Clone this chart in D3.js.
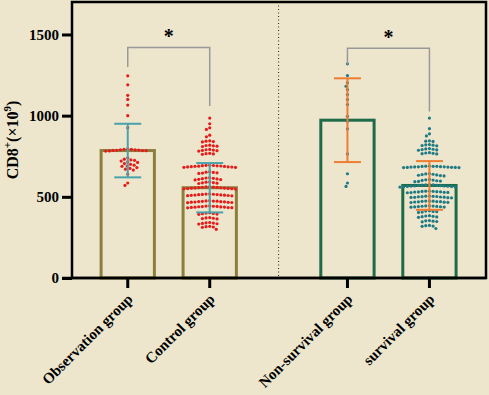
<!DOCTYPE html>
<html>
<head>
<meta charset="utf-8">
<script src="https://cdn.jsdelivr.net/npm/d3@7"></script>
<style>
  html, body { margin: 0; padding: 0; background: #ede6cd; }
  svg text { font-family: "Liberation Serif", "Times New Roman", serif; font-weight: bold; }
</style>
</head>
<body>
<div id="chart"></div>
<script>
// groups, means and SDs
const groups = ["Observation group", "Control group", "Non-survival group", "survival group"];
const means = [785, 556, 972, 570];
const sds = [165, 152, 258, 150];
const yTicks = [0, 500, 1000, 1500];

// individual points
const obsValues = [1245, 1190, 1125, 1100, 1065, 1000, 925,
  795, 793, 792, 790, 789, 788, 787, 786, 785, 784, 783, 782,
  740, 732, 728, 725, 720, 715, 712, 705, 700, 695, 690, 688, 680, 675, 670, 665,
  640, 585, 570];

const ctrlValues = [985, 950, 925, 915, 880, 870,
  845, 843, 840, 838,
  818, 816, 814, 812, 810,
  792, 790, 788, 786, 784, 782,
  768, 766, 764, 762,
  695, 694, 693, 692, 691, 690, 689, 688, 687, 686, 685, 684, 683, 682, 681,
  655, 652, 650, 648, 646, 644,
  618, 616, 614, 612, 610, 608, 606, 604,
  592, 590, 588, 586, 584, 582,
  562, 561, 560, 559, 558, 557, 556, 555, 554, 553, 552, 551, 550, 549, 548,
  518, 517, 516, 515, 514, 513, 512, 511, 510, 509, 508, 507, 506,
  476, 475, 474, 473, 472, 471, 470, 469, 468, 467, 466, 465, 464,
  444, 443, 442, 441, 440, 439, 438, 437, 436, 435, 434, 433, 432,
  402, 400, 398, 396, 394, 392,
  372, 370, 368, 366, 364,
  342, 340, 338, 336, 334, 332,
  318, 316, 314, 312, 300];

const nonSurvValues = [1319, 1247, 1202, 1181, 1160, 1130, 1099, 1068, 996, 965, 918, 764, 642, 585, 564];

const survValues = [985, 920, 888, 875,
  845, 843, 841,
  822, 820, 818, 816, 814,
  797, 795, 793, 791, 789, 787,
  772, 770, 768, 766, 764,
  690, 689, 688, 688, 687, 686, 685, 685, 684, 683, 683, 682, 681, 681, 680, 680,
  643, 641, 639, 637, 635, 633, 631, 629,
  607, 605, 603, 601, 599, 597, 595, 593,
  575, 574, 573, 572, 571, 570, 569, 568, 567, 566, 565, 564, 563, 562, 561, 560,
  536, 535, 534, 533, 532, 531, 530, 529, 528, 527, 526, 525,
  505, 504, 503, 502, 501, 500, 499, 498, 497, 496, 495, 494,
  475, 474, 473, 472, 471, 470, 469, 468, 467, 466, 465,
  445, 444, 443, 442, 441, 440, 439, 438, 437, 436,
  414, 412, 410, 408, 406, 404,
  384, 382, 380, 378, 376, 374,
  354, 352, 350, 348, 346,
  324, 322, 320, 318, 305];

const pointSets = [obsValues, ctrlValues, nonSurvValues, survValues];

const barColors = ["#8c7e3c", "#8c7e3c", "#1d6b47", "#1d6b47"];
const errColors = ["#4aa3aa", "#4aa3aa", "#ee7d32", "#ee7d32"];
const dotColors = ["#e61c1c", "#e61c1c", "#1f7a84", "#1f7a84"];

const W = 489, H = 395;
const margin = { top: 2, left: 72, right: 3, bottom: 117 };
const width = W - margin.left - margin.right,
  height = H - margin.top - margin.bottom;

const svg = d3.select("#chart").append("svg")
  .attr("width", W).attr("height", H);

const g = svg.append("g")
  .attr("transform", "translate(" + margin.left + "," + margin.top + ")");

// group index -> x, with a gap between the two comparisons
const gap = 0.68;
const xScale = d3.scaleLinear().domain([-0.68, 4.37]).range([0, width]);
const X = (i) => xScale(i + (i >= 2 ? gap : 0));
const bandW = xScale(0.65) - xScale(0);

const yScale = d3.scaleLinear().domain([0, 1700]).range([height, 0]);

// dotted divider between the two comparisons
const xDiv = xScale((1 + 2 + gap) / 2);
g.append("line")
  .attr("x1", xDiv).attr("x2", xDiv)
  .attr("y1", 0).attr("y2", height)
  .attr("stroke", "#222").attr("stroke-width", 1)
  .attr("stroke-dasharray", "1,2.5");

// bars
g.selectAll(".bar").data(means).enter().append("rect")
  .attr("x", (d, i) => X(i) - bandW / 2)
  .attr("y", (d) => yScale(d))
  .attr("width", bandW)
  .attr("height", (d) => height - yScale(d))
  .attr("fill", "none")
  .attr("stroke", (d, i) => barColors[i])
  .attr("stroke-width", 3);

// beeswarm layout
const r = 1.6, D = 3.7;
function swarm(values) {
  const placed = [];
  const sorted = values.slice().sort((a, b) => b - a);
  sorted.forEach((v) => {
    const y = yScale(v);
    const ivs = [];
    placed.forEach((p) => {
      const dy = Math.abs(p.y - y);
      if (dy < D) {
        const dx = Math.sqrt(D * D - dy * dy);
        ivs.push([p.x - dx, p.x + dx]);
      }
    });
    let cands = [0];
    ivs.forEach((iv) => { cands.push(iv[0], iv[1]); });
    cands.sort((a, b) => Math.abs(a) - Math.abs(b));
    let best = 0;
    for (const c of cands) {
      if (ivs.every((iv) => c <= iv[0] + 1e-6 || c >= iv[1] - 1e-6)) { best = c; break; }
    }
    placed.push({ x: best, y: y, v: v });
  });
  return placed;
}

pointSets.forEach((vals, i) => {
  const pts = swarm(vals);
  g.append("g").selectAll("circle").data(pts).enter().append("circle")
    .attr("cx", (d) => X(i) + d.x)
    .attr("cy", (d) => d.y)
    .attr("r", r)
    .attr("fill", dotColors[i]);
});

// error bars
const capW = 27;
means.forEach((m, i) => {
  const eg = g.append("g").attr("stroke", errColors[i]).attr("stroke-width", 2);
  eg.append("line").attr("x1", X(i)).attr("x2", X(i))
    .attr("y1", yScale(m + sds[i])).attr("y2", yScale(m - sds[i]));
  [m + sds[i], m - sds[i]].forEach((v) => {
    eg.append("line").attr("x1", X(i) - capW / 2).attr("x2", X(i) + capW / 2)
      .attr("y1", yScale(v)).attr("y2", yScale(v));
  });
});

// significance brackets
const brackets = [
  { a: 0, b: 1, top: 1420, la: 1300, lb: 1060 },
  { a: 2, b: 3, top: 1415, la: 1315, lb: 1025 }
];
brackets.forEach((br) => {
  g.append("path")
    .attr("d", d3.line()([
      [X(br.a), yScale(br.la)], [X(br.a), yScale(br.top)],
      [X(br.b), yScale(br.top)], [X(br.b), yScale(br.lb)]
    ]))
    .attr("fill", "none").attr("stroke", "#999").attr("stroke-width", 1.5);
  g.append("text")
    .attr("x", (X(br.a) + X(br.b)) / 2)
    .attr("y", yScale(br.top) - 4)
    .attr("text-anchor", "middle")
    .style("font-size", "20px")
    .text("*");
});

// frame
g.append("rect").attr("x", 0).attr("y", 0).attr("width", width).attr("height", height)
  .attr("fill", "none").attr("stroke", "#000").attr("stroke-width", 2.5);

// y axis
const yAxis = g.append("g")
  .call(d3.axisLeft(yScale).tickValues(yTicks).tickSize(10).tickPadding(3).tickFormat(d3.format("d")));
yAxis.select(".domain").remove();
yAxis.selectAll("line").attr("stroke", "#000").attr("stroke-width", 3);
yAxis.selectAll("text").style("font-size", "15px").attr("fill", "#000");

// x axis
const xAxis = g.append("g").attr("transform", "translate(0," + height + ")");
xAxis.append("line").attr("x1", -10).attr("x2", width).attr("stroke", "#000").attr("stroke-width", 2.5);
groups.forEach((name, i) => {
  xAxis.append("line").attr("x1", X(i)).attr("x2", X(i)).attr("y1", 0).attr("y2", 10)
    .attr("stroke", "#000").attr("stroke-width", 3);
  xAxis.append("text")
    .attr("text-anchor", "end")
    .attr("transform", "translate(" + (X(i) + 6) + ",22) rotate(-45)")
    .style("font-size", "15px")
    .text(name);
});

// y label
const yl = svg.append("text")
  .attr("transform", "translate(18," + (margin.top + yScale(850)) + ") rotate(-90)")
  .attr("text-anchor", "middle")
  .style("font-size", "16px");
yl.append("tspan").text("CD8");
yl.append("tspan").attr("dy", -7).style("font-size", "11px").text("+");
yl.append("tspan").attr("dy", 7).text("(×10");
yl.append("tspan").attr("dy", -7).style("font-size", "11px").text("9");
yl.append("tspan").attr("dy", 7).text(")");
</script>
</body>
</html>
